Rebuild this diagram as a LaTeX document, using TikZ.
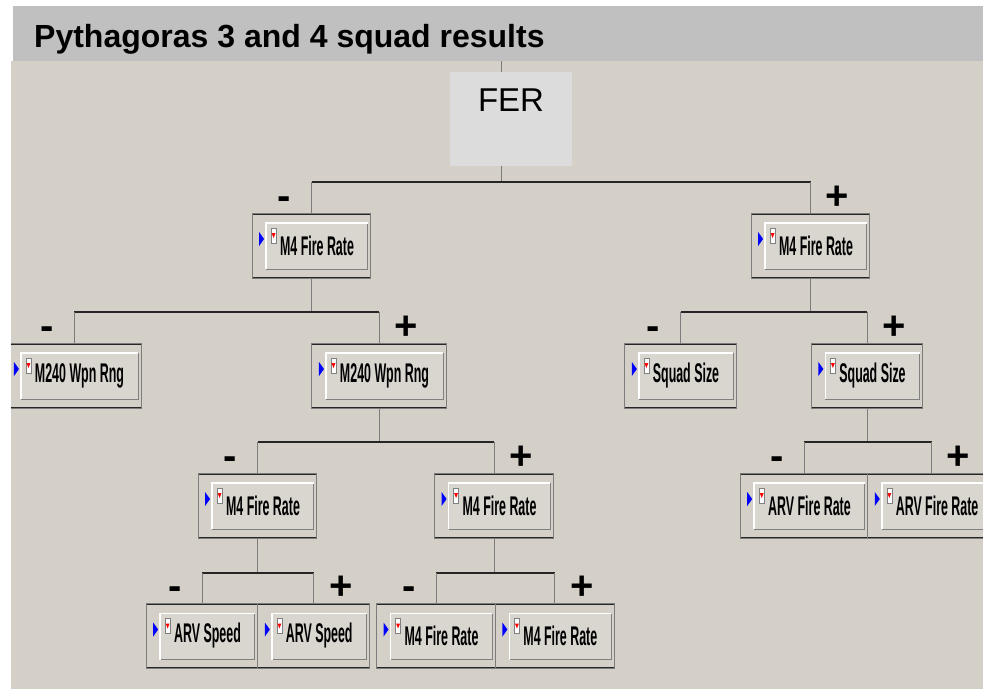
\documentclass[tikz,border=0pt]{standalone}
\usepackage{fontspec}
\setmainfont{Liberation Sans}
\newfontfamily\btnfont[FakeStretch=0.46]{Liberation Sans}
\usetikzlibrary{positioning}
\definecolor{panel}{HTML}{D4D0C8}
\definecolor{header}{HTML}{C0C0C0}
\definecolor{ferfill}{HTML}{DCDCDC}
\definecolor{btnface}{HTML}{D9D5CF}
\definecolor{stemgray}{HTML}{7C7C7C}
\tikzset{
x=1pt, y=1pt, % one unit is one pixel of the screenshot
titletext/.style={font=\bfseries\fontsize{32}{36}\selectfont, inner sep=0pt}, % the heading in the grey band
fer/.style={fill=ferfill, minimum width=122pt, text height=39pt, text depth=55pt, inner ysep=0pt, font=\fontsize{33}{33}\selectfont}, % the root box
factor/.style={draw=stemgray, line width=1pt, fill=panel, minimum height=65pt, inner xsep=17pt, outer sep=0pt,
  font=\btnfont\bfseries\fontsize{27}{27}\selectfont, execute at begin node=\hspace*{11pt},
  path picture={
    \coordinate (nw) at (path picture bounding box.north west);
    \coordinate (se) at (path picture bounding box.south east);
    \fill[btnface] ([shift={(14,-10)}]nw) rectangle ([shift={(-3,9)}]se);
    \draw[gray, line width=1pt] ([shift={(14,9)}]nw |- se) -| ([shift={(-3,-10)}]nw -| se);
    \draw[white, line width=1.5pt] ([shift={(14,9)}]nw |- se) |- ([shift={(-3,-10)}]nw -| se);
    \draw[black!85, line width=3pt] (nw) -- (nw -| se) (nw |- se) -- (se);
    \fill[blue] ([shift={(7,-19)}]nw) -- ++(5,-7) -- ++(-5,-7) -- cycle;
    \filldraw[fill=white, draw=gray, line width=0.6pt] ([shift={(19,-15)}]nw) rectangle ++(5,-15);
    \fill[red] ([shift={(19.5,-20)}]nw) -- ++(4,0) -- ++(-2,-5) -- cycle;
  }}, % a factor button in its frame
stemline/.style={draw=stemgray, line width=1pt}, % vertical links
barline/.style={draw=black!85, line width=2pt}, % horizontal split bars
minussign/.style={anchor=base, xshift=-27pt, yshift=-27pt, inner sep=0pt, font=\bfseries\fontsize{40}{40}\selectfont},
plussign/.style={anchor=base, xshift=27pt, yshift=-27pt, inner sep=0pt, font=\bfseries\fontsize{40}{40}\selectfont},
}

\begin{document}
\begin{tikzpicture}
    \useasboundingbox (0,0) rectangle (983,-689);
    \fill[header] (13,-6) rectangle (983,-61);
    \node[titletext, anchor=base west] (title) at (34,-47) {Pythagoras 3 and 4 squad results};
    \fill[panel] (11,-61) rectangle (983,-689);

    \begin{scope}
        \clip (11,-61) rectangle (983,-689);
        \coordinate (root) at (501,-61);
        \node[fer] (FER) at (511,-119) {FER};

        \node[factor] (A) at (311.5,-245.5) {M4 Fire Rate};
        \node[factor] (B) at (810.5,-245.5) {M4 Fire Rate};
        \node[factor] (AA) at (74,-375.5) {M240 Wpn Rng};
        \node[factor] (AB) at (379,-375.5) {M240 Wpn Rng};
        \node[factor] (BA) at (680.5,-375.5) {Squad Size};
        \node[factor] (BB) at (867,-375.5) {Squad Size};
        \node[factor] (ABA) at (257.5,-505.5) {M4 Fire Rate};
        \node[factor] (ABB) at (494,-505.5) {M4 Fire Rate};
        \node[factor] (BBA) at (804,-505.5) {ARV Fire Rate};
        \node[factor, right=0pt of BBA] (BBB) {ARV Fire Rate};
        \node[factor] (ABAA) at (202,-636) {ARV Speed};
        \node[factor, right=0pt of ABAA] (ABAB) {ARV Speed};
        \node[factor] (ABBA) at (436,-636) {M4 Fire Rate};
        \node[factor, right=0pt of ABBA] (ABBB) {M4 Fire Rate};

        % root split
        \draw[stemline] (root) -- (root |- FER.north);
        \draw[stemline] (root |- FER.south) -- ([yshift=31pt]root |- A.north);
        \draw[barline] ([yshift=31pt]A.north) node[minussign] (A-m) {-} -- ([yshift=31pt]B.north) node[plussign] (B-p) {+};
        \draw[stemline] (A.north) -- ++(0,31) (B.north) -- ++(0,31);

        % left M4 Fire Rate split
        \draw[stemline] (A.south) -- ([yshift=31pt]A.south |- AA.north);
        \draw[barline] ([yshift=31pt]AA.north) node[minussign] (AA-m) {-} -- ([yshift=31pt]AB.north) node[plussign] (AB-p) {+};
        \draw[stemline] (AA.north) -- ++(0,31) (AB.north) -- ++(0,31);

        % right M4 Fire Rate split
        \draw[stemline] (B.south) -- ([yshift=31pt]B.south |- BA.north);
        \draw[barline] ([yshift=31pt]BA.north) node[minussign] (BA-m) {-} -- ([yshift=31pt]BB.north) node[plussign] (BB-p) {+};
        \draw[stemline] (BA.north) -- ++(0,31) (BB.north) -- ++(0,31);

        % M240 Wpn Rng split
        \draw[stemline] (AB.south) -- ([yshift=31pt]AB.south |- ABA.north);
        \draw[barline] ([yshift=31pt]ABA.north) node[minussign] (ABA-m) {-} -- ([yshift=31pt]ABB.north) node[plussign] (ABB-p) {+};
        \draw[stemline] (ABA.north) -- ++(0,31) (ABB.north) -- ++(0,31);

        % Squad Size split
        \draw[stemline] (BB.south) -- ([yshift=31pt]BB.south |- BBA.north);
        \draw[barline] ([yshift=31pt]BBA.north) node[minussign] (BBA-m) {-} -- ([yshift=31pt]BBB.north) node[plussign] (BBB-p) {+};
        \draw[stemline] (BBA.north) -- ++(0,31) (BBB.north) -- ++(0,31);

        % lower M4 Fire Rate splits
        \draw[stemline] (ABA.south) -- ([yshift=31pt]ABA.south |- ABAA.north);
        \draw[barline] ([yshift=31pt]ABAA.north) node[minussign] (ABAA-m) {-} -- ([yshift=31pt]ABAB.north) node[plussign] (ABAB-p) {+};
        \draw[stemline] (ABAA.north) -- ++(0,31) (ABAB.north) -- ++(0,31);

        \draw[stemline] (ABB.south) -- ([yshift=31pt]ABB.south |- ABBA.north);
        \draw[barline] ([yshift=31pt]ABBA.north) node[minussign] (ABBA-m) {-} -- ([yshift=31pt]ABBB.north) node[plussign] (ABBB-p) {+};
        \draw[stemline] (ABBA.north) -- ++(0,31) (ABBB.north) -- ++(0,31);
    \end{scope}
\end{tikzpicture}
\end{document}
